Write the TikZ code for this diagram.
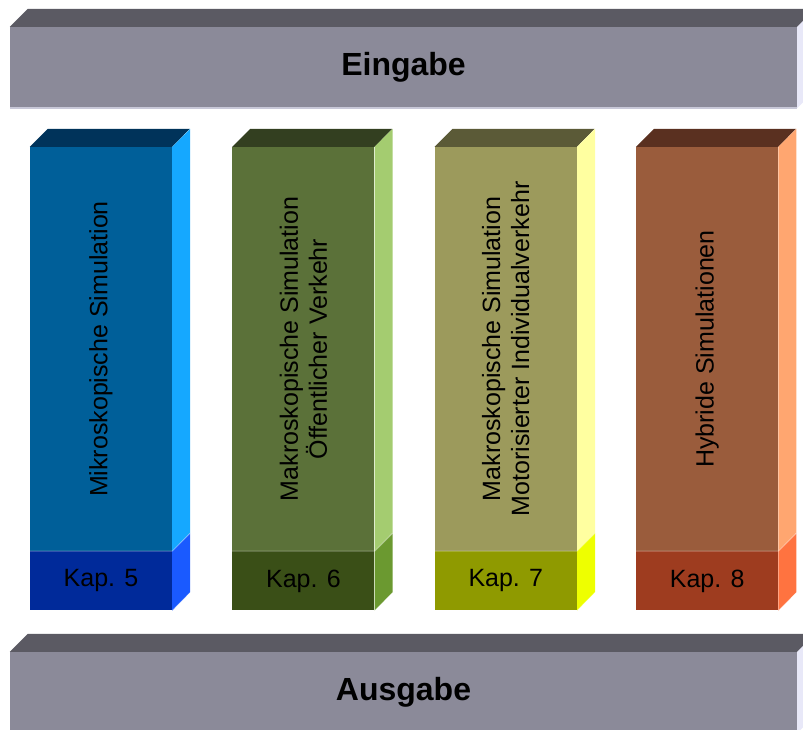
\documentclass[tikz,border=0pt]{standalone}
\usepackage{fontspec}
\setmainfont{Liberation Sans}
\usepackage{tikz}
\usetikzlibrary{positioning}
\usetikzlibrary{calc}

\definecolor{barfront}{HTML}{8B8A99}
\definecolor{bartop}{HTML}{5B5A63}
\definecolor{barside}{HTML}{E8E8F8}
\definecolor{baredge}{HTML}{C8C8D8}
\definecolor{bluefront}{HTML}{005F99}
\definecolor{bluetop}{HTML}{00335A}
\definecolor{blueside}{HTML}{15A8FF}
\definecolor{bluekap}{HTML}{002A9A}
\definecolor{bluekapside}{HTML}{1A5AFF}
\definecolor{greenfront}{HTML}{5B7139}
\definecolor{greentop}{HTML}{333F20}
\definecolor{greenside}{HTML}{A4CC70}
\definecolor{greenkap}{HTML}{3A4F17}
\definecolor{greenkapside}{HTML}{6B9930}
\definecolor{olivefront}{HTML}{9C9A5C}
\definecolor{olivetop}{HTML}{5B5A37}
\definecolor{oliveside}{HTML}{FFFFA0}
\definecolor{olivekap}{HTML}{8F9A00}
\definecolor{olivekapside}{HTML}{EEFF00}
\definecolor{brownfront}{HTML}{9A5C3C}
\definecolor{browntop}{HTML}{5A3020}
\definecolor{brownside}{HTML}{FFA670}
\definecolor{brownkap}{HTML}{9E3C1F}
\definecolor{brownkapside}{HTML}{FF7340}

\begin{document}
\begin{tikzpicture}[x=1pt, y=-1pt,
    bar/.style={rectangle, inner sep=0pt, minimum width=787pt, minimum height=81pt,
      fill=barfront, font=\fontsize{32}{36}\selectfont\bfseries},
    pillar/.style={rectangle, inner sep=0pt, minimum width=142pt, minimum height=404pt},
    kap/.style={rectangle, inner sep=0pt, minimum width=142pt, minimum height=59pt,
      font=\fontsize{25}{29}\selectfont},
    pillartext/.style={rotate=90, align=center, font=\fontsize{25}{29}\selectfont},
    edge/.style={white, opacity=0.3, line width=1pt}]

  \useasboundingbox (0,0) rectangle (803,729);
  \clip (0,0) rectangle (803,729);

  % Define nodes
  \node[bar] (in) at (403.5,67.5) {Eingabe};
  \node[bar] (out) at (403.5,692.5) {Ausgabe};

  \node[pillar, fill=bluefront] (c5) at (101,349) {};
  \node[pillar, fill=greenfront, right=60pt of c5] (c6) {};
  \node[pillar, fill=olivefront, right=60pt of c6] (c7) {};
  \node[pillar, fill=brownfront, right=59pt of c7] (c8) {};

  \node[kap, fill=bluekap, below=0pt of c5] (k5) {Kap. 5};
  \node[kap, fill=greenkap, below=0pt of c6] (k6) {Kap. 6};
  \node[kap, fill=olivekap, below=0pt of c7] (k7) {Kap. 7};
  \node[kap, fill=brownkap, below=0pt of c8] (k8) {Kap. 8};

  \node[pillartext] (t5) at (c5) {Mikroskopische Simulation};
  \node[pillartext] (t6) at (c6) {Makroskopische Simulation\\\"Offentlicher Verkehr};
  \node[pillartext] (t7) at (c7) {Makroskopische Simulation\\Motorisierter Individualverkehr};
  \node[pillartext] (t8) at (c8) {Hybride Simulationen};

  % Faces of the bars
  \fill[bartop] (in.north west) -- ++(18,-18) -- ($(in.north east)+(18,-18)$) -- (in.north east) -- cycle;
  \fill[barside] (in.north east) -- ++(18,-18) -- ++(0,81) -- (in.south east) -- cycle;
  \draw[baredge, line width=1.5pt] (in.south west) -- (in.south east);
  \fill[bartop] (out.north west) -- ++(18,-18) -- ($(out.north east)+(18,-18)$) -- (out.north east) -- cycle;
  \fill[barside] (out.north east) -- ++(18,-18) -- ++(0,81) -- (out.south east) -- cycle;

  % Faces of the pillars
  \fill[bluetop] (c5.north west) -- ++(18,-18) -- ++(142,0) -- (c5.north east) -- cycle;
  \fill[blueside] (c5.north east) -- ++(18,-18) -- ++(0,404) -- (c5.south east) -- cycle;
  \fill[bluekapside] (k5.north east) -- ++(18,-18) -- ++(0,59) -- (k5.south east) -- cycle;

  \fill[greentop] (c6.north west) -- ++(18,-18) -- ++(142,0) -- (c6.north east) -- cycle;
  \fill[greenside] (c6.north east) -- ++(18,-18) -- ++(0,404) -- (c6.south east) -- cycle;
  \fill[greenkapside] (k6.north east) -- ++(18,-18) -- ++(0,59) -- (k6.south east) -- cycle;

  \fill[olivetop] (c7.north west) -- ++(18,-18) -- ++(142,0) -- (c7.north east) -- cycle;
  \fill[oliveside] (c7.north east) -- ++(18,-18) -- ++(0,404) -- (c7.south east) -- cycle;
  \fill[olivekapside] (k7.north east) -- ++(18,-18) -- ++(0,59) -- (k7.south east) -- cycle;

  \fill[browntop] (c8.north west) -- ++(18,-18) -- ++(142,0) -- (c8.north east) -- cycle;
  \fill[brownside] (c8.north east) -- ++(18,-18) -- ++(0,404) -- (c8.south east) -- cycle;
  \fill[brownkapside] (k8.north east) -- ++(18,-18) -- ++(0,59) -- (k8.south east) -- cycle;

  % Light edges
  \draw[edge] (k5.north west) -- (k5.north east) -- ++(18,-18);
  \draw[edge] (k5.south west) -- (k5.south east) -- ++(18,-18);
  \draw[edge] (k6.north west) -- (k6.north east) -- ++(18,-18);
  \draw[edge] (k6.south west) -- (k6.south east) -- ++(18,-18);
  \draw[edge] (k7.north west) -- (k7.north east) -- ++(18,-18);
  \draw[edge] (k7.south west) -- (k7.south east) -- ++(18,-18);
  \draw[edge] (k8.north west) -- (k8.north east) -- ++(18,-18);
  \draw[edge] (k8.south west) -- (k8.south east) -- ++(18,-18);

\end{tikzpicture}
\end{document}
